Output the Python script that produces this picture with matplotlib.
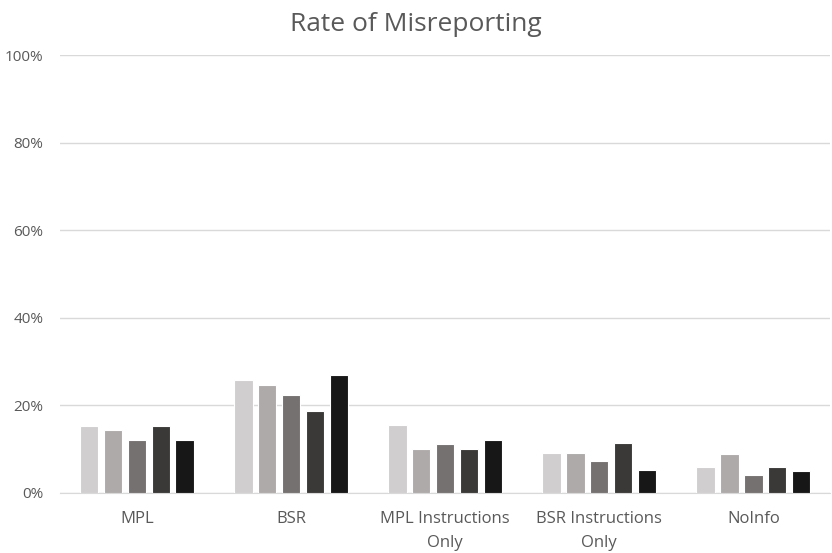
import numpy as np
import matplotlib.pyplot as plt
from matplotlib.ticker import PercentFormatter

categories = ['MPL', 'BSR', 'MPL Instructions\nOnly', 'BSR Instructions\nOnly', 'NoInfo']
s1 = [15.3, 25.8, 15.5, 9.2, 5.9]
s2 = [14.3, 24.7, 10.0, 9.2, 8.9]
s3 = [12.1, 22.3, 11.1, 7.3, 4.0]
s4 = [15.3, 18.7, 10.0, 11.4, 5.9]
s5 = [12.1, 27.0, 12.2, 5.2, 5.0]
series = [s1, s2, s3, s4, s5]
colors = ['#d0cece', '#aeaaaa', '#767171', '#3b3838', '#171717']

plt.rcParams['font.family'] = ['Open Sans', 'DejaVu Sans']

fig = plt.figure(figsize=(8.32, 5.53), dpi=100)
ax = fig.add_axes([0.072, 0.1085, 0.926, 0.792])

x = np.arange(len(categories))
w = 0.12
step = 0.155
for i, vals in enumerate(series):
    ax.bar(x + (i - 2) * step, vals, width=w, color=colors[i],
           edgecolor='white', linewidth=0.8, zorder=3)

ax.set_xlim(-0.5, 4.5)
ax.set_ylim(0, 100)
ax.set_yticks(range(0, 101, 20))
ax.yaxis.set_major_formatter(PercentFormatter(decimals=0))
ax.set_xticks(x)
ax.set_xticklabels(categories, fontsize=12, linespacing=1.65)
ax.grid(axis='y', color='#d9d9d9', linewidth=1, zorder=0)
for sp in ['top', 'right', 'left']:
    ax.spines[sp].set_visible(False)
ax.spines['bottom'].set_color('#d9d9d9')
ax.tick_params(axis='both', length=0, colors='#595959')
ax.tick_params(axis='y', labelsize=11, pad=12)
ax.tick_params(axis='x', pad=13)

fig.text(0.5, 0.955, 'Rate of Misreporting', ha='center', va='center',
         fontsize=19, color='#595959')

fig.savefig('out.png', dpi=100)
